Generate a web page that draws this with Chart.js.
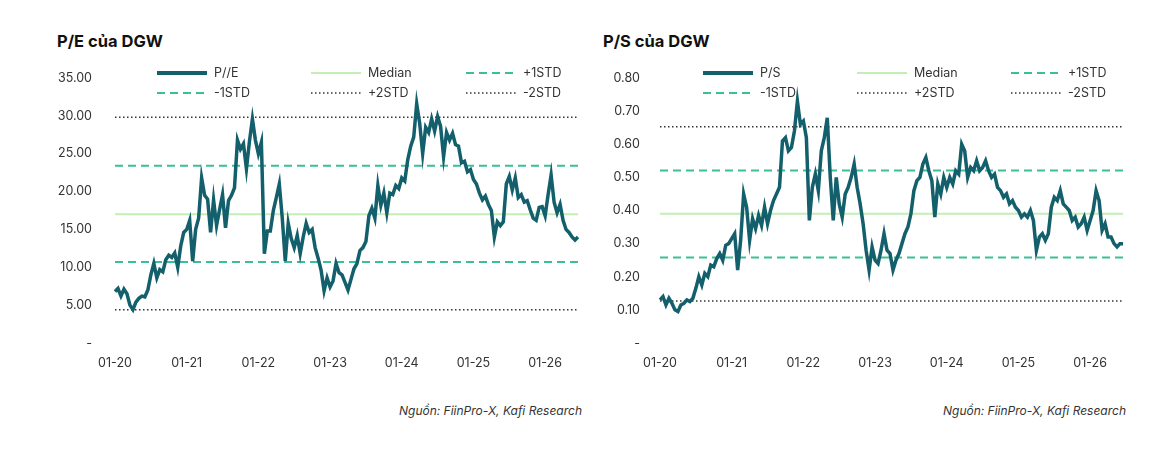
<!DOCTYPE html>
<html>
<head>
<meta charset="utf-8">
<script src="https://cdn.jsdelivr.net/npm/chart.js@4"></script>
<style>
  html, body { margin: 0; padding: 0; background: #fff; }
  body { width: 1170px; height: 454px; position: relative; overflow: hidden; font-family: Inter, "Noto Sans", sans-serif; }
  .title { position: absolute; top: 31px; font-weight: 700; font-size: 16.5px; color: #111; }
  .src { position: absolute; top: 403px; font-style: italic; font-size: 12px; color: #333; text-align: right; width: 300px; }
  canvas { position: absolute; top: 0; }
</style>
</head>
<body>
<div class="title" style="left:57px">P/E của DGW</div>
<div class="title" style="left:603px">P/S của DGW</div>
<canvas id="peChart" width="585" height="380" style="left:0"></canvas>
<canvas id="psChart" width="585" height="380" style="left:585px"></canvas>
<div class="src" style="left:282px">Nguồn: FiinPro-X, Kafi Research</div>
<div class="src" style="left:826px">Nguồn: FiinPro-X, Kafi Research</div>

<script>
// half-month points, Jan 2020 -> mid 2026
const yearTicks = ['01-20', '01-21', '01-22', '01-23', '01-24', '01-25', '01-26'];

const peValues = [
  6.8, 7.2, 6.2, 7.1, 6.5, 5.0, 4.4, 5.4, 5.9, 6.2, 6.1, 7.0,
  9.0, 10.5, 8.6, 9.7, 9.4, 11.0, 11.6, 11.3, 11.9, 10.0, 12.8, 14.6,
  15.0, 16.2, 10.8, 15.0, 16.5, 21.8, 19.5, 19.0, 14.6, 18.9, 15.5, 17.6,
  19.6, 15.2, 18.8, 19.5, 20.5, 26.8, 25.6, 26.3, 23.0, 26.6, 29.6, 26.8,
  25.0, 26.5, 11.8, 14.8, 14.8, 17.5, 19.2, 21.0, 16.5, 10.8, 15.8, 13.8,
  12.6, 14.2, 11.8, 14.0, 15.8, 14.6, 15.0, 12.6, 11.2, 9.6, 6.9, 8.6,
  7.4, 8.2, 10.5, 9.3, 9.0, 8.0, 7.0, 8.4, 9.8, 10.5, 12.2, 12.6,
  13.4, 16.8, 17.8, 16.5, 20.8, 18.2, 19.8, 17.2, 19.8, 19.6, 20.8, 20.4,
  21.8, 21.4, 24.2, 26.0, 27.2, 31.6, 29.0, 25.0, 28.5, 27.8, 29.6, 28.0,
  29.9, 28.6, 24.6, 27.8, 26.8, 27.7, 26.2, 26.0, 23.8, 24.0, 22.6, 22.9,
  21.6, 21.0, 19.8, 18.9, 19.4, 18.3, 17.5, 14.0, 16.0, 15.5, 16.0, 21.0,
  22.0, 20.2, 21.8, 19.2, 19.6, 18.6, 18.8, 17.6, 16.5, 16.2, 17.9, 18.0,
  16.8, 19.6, 22.2, 18.6, 17.2, 18.3, 16.2, 15.0, 14.6, 14.0, 13.6, 14.0
];
// median, +1STD, -1STD, +2STD, -2STD
const peLevels = [17.0, 23.4, 10.7, 29.8, 4.4];

const psValues = [
  0.13, 0.14, 0.115, 0.135, 0.12, 0.10, 0.095, 0.115, 0.12, 0.13, 0.125, 0.135,
  0.165, 0.20, 0.175, 0.21, 0.20, 0.235, 0.23, 0.255, 0.27, 0.25, 0.295, 0.30,
  0.315, 0.33, 0.22, 0.31, 0.45, 0.41, 0.31, 0.375, 0.345, 0.385, 0.355, 0.41,
  0.36, 0.40, 0.43, 0.45, 0.47, 0.61, 0.62, 0.58, 0.59, 0.64, 0.73, 0.66,
  0.67, 0.62, 0.37, 0.47, 0.51, 0.46, 0.58, 0.62, 0.68, 0.50, 0.37, 0.50,
  0.42, 0.38, 0.45, 0.47, 0.50, 0.54, 0.47, 0.42, 0.36, 0.28, 0.22, 0.29,
  0.25, 0.24, 0.28, 0.33, 0.28, 0.27, 0.22, 0.25, 0.27, 0.30, 0.33, 0.35,
  0.39, 0.46, 0.49, 0.50, 0.54, 0.56, 0.52, 0.49, 0.38, 0.48, 0.45, 0.50,
  0.47, 0.50, 0.48, 0.52, 0.51, 0.60, 0.58, 0.50, 0.53, 0.52, 0.55, 0.52,
  0.53, 0.55, 0.52, 0.50, 0.51, 0.47, 0.46, 0.44, 0.45, 0.42, 0.43, 0.41,
  0.40, 0.38, 0.39, 0.38, 0.40, 0.37, 0.28, 0.32, 0.33, 0.31, 0.33, 0.41,
  0.44, 0.43, 0.46, 0.42, 0.41, 0.40, 0.37, 0.38, 0.35, 0.36, 0.38, 0.34,
  0.37, 0.40, 0.46, 0.43, 0.34, 0.36, 0.32, 0.32, 0.30, 0.29, 0.30, 0.30
];
const psLevels = [0.39, 0.521, 0.258, 0.653, 0.127];

const periods = [];
for (let i = 0; i < peValues.length; i++) {
  const m = Math.floor(i / 2) % 12 + 1;
  const y = 20 + Math.floor(i / 24);
  periods.push(String(m).padStart(2, '0') + '-' + y);
}

const FONT = 'Inter, "Noto Sans", sans-serif';
const levelNames = ['Median', '+1STD', '-1STD', '+2STD', '-2STD'];
const levelStyles = [
  { color: '#c3efb6', width: 2, dash: [] },
  { color: '#3bbf98', width: 2, dash: [8, 5] },
  { color: '#3bbf98', width: 2, dash: [8, 5] },
  { color: '#333333', width: 1.5, dash: [1.5, 2.5] },
  { color: '#333333', width: 1.5, dash: [1.5, 2.5] }
];

// legend laid out as a 3x2 grid inside the plot area
const gridLegend = {
  id: 'gridLegend',
  afterDraw(chart, args, opts) {
    const ctx = chart.ctx;
    ctx.save();
    ctx.font = '12.5px ' + FONT;
    ctx.textBaseline = 'middle';
    chart.data.datasets.forEach((ds, i) => {
      const x = opts.cols[i % 3];
      const y = opts.rows[Math.floor(i / 3)];
      ctx.strokeStyle = ds.borderColor;
      ctx.lineWidth = i === 0 ? 4 : ds.borderWidth;
      ctx.setLineDash(ds.borderDash || []);
      ctx.beginPath();
      ctx.moveTo(x, y);
      ctx.lineTo(x + opts.sample, y);
      ctx.stroke();
      ctx.setLineDash([]);
      ctx.fillStyle = '#333';
      ctx.fillText(ds.label, x + opts.sample + 7, y);
    });
    ctx.restore();
  }
};

function makeChart(id, mainLabel, values, levels, yMax, yStep, axisWidth, labelRight, padRight, cols) {
  const datasets = [{
    label: mainLabel,
    data: values,
    borderColor: '#135f6b',
    borderWidth: 3.5,
    pointRadius: 0,
    tension: 0
  }];
  levels.forEach((v, k) => {
    datasets.push({
      label: levelNames[k],
      data: periods.map(() => v),
      borderColor: levelStyles[k].color,
      borderWidth: levelStyles[k].width,
      borderDash: levelStyles[k].dash,
      pointRadius: 0
    });
  });

  new Chart(document.getElementById(id), {
    type: 'line',
    data: { labels: periods, datasets: datasets },
    plugins: [gridLegend],
    options: {
      responsive: false,
      animation: false,
      layout: { padding: { top: 78, right: padRight, bottom: 0, left: 0 } },
      plugins: {
        legend: { display: false },
        tooltip: { enabled: false },
        gridLegend: { cols: cols, rows: [73, 93], sample: 50 }
      },
      scales: {
        x: {
          type: 'category',
          grid: { display: false },
          border: { display: false },
          afterBuildTicks: axis => {
            axis.ticks = axis.ticks.filter(t => yearTicks.includes(periods[t.value]) && t.value % 2 === 0);
          },
          afterFit: axis => { axis.height = 37; },
          ticks: { autoSkip: false, maxRotation: 0, padding: 5, color: '#333', font: { family: FONT, size: 12.5 } }
        },
        y: {
          min: 0,
          max: yMax,
          grid: { display: false },
          border: { display: false },
          afterFit: axis => { axis.width = axisWidth; },
          ticks: {
            stepSize: yStep,
            padding: axisWidth - labelRight,
            color: '#333',
            font: { family: FONT, size: 12.5 },
            callback: v => (Math.abs(v) < 1e-9 ? '-' : v.toFixed(2))
          }
        }
      }
    }
  });
}

makeChart('peChart', 'P//E', peValues, peLevels, 35, 5, 115, 100, 7, [157, 311, 466]);
makeChart('psChart', 'P/S', psValues, psLevels, 0.8, 0.1, 75, 63, 47, [118, 272, 426]);
</script>
</body>
</html>
